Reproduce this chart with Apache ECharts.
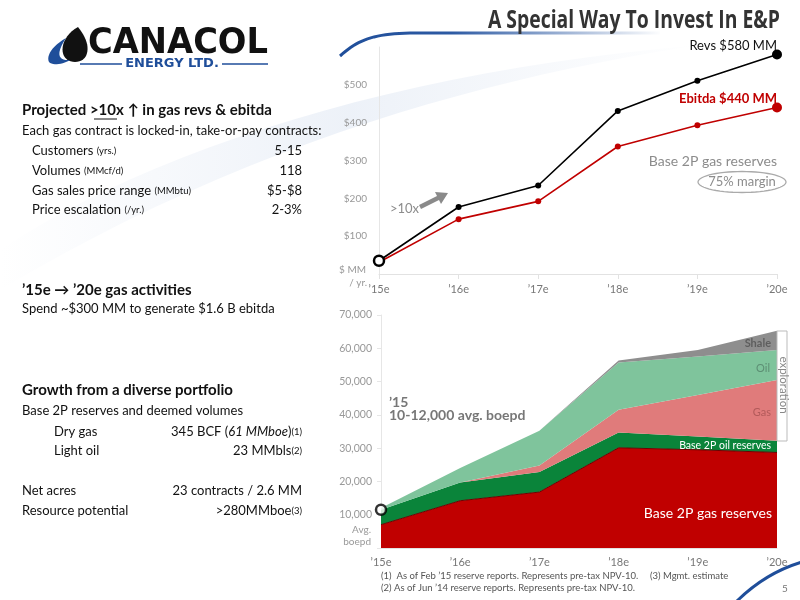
<!DOCTYPE html>
<html>
<head>
<meta charset="utf-8">
<script src="https://cdn.jsdelivr.net/npm/echarts@6/dist/echarts.min.js"></script>
<style>
html,body{margin:0;padding:0;background:#fff;}
#c{width:800px;height:600px;}
</style>
</head>
<body>
<div id="c"></div>
<script>
// ---- data ----
const years = ['\u201915e', '\u201916e', '\u201917e', '\u201918e', '\u201919e', '\u201920e'];
// Top chart: $ MM / yr.
const revenues = [35, 177, 234, 431, 511, 580];
const ebitda = [31, 145, 192, 337, 393, 440];
// Bottom chart: avg. boepd (stacked)
const gasReserves = [7000, 14200, 16800, 30100, 29500, 28700];
const oilReserves = [4500, 5500, 6000, 4600, 4000, 3500];
const gasExploration = [0, 0, 2000, 6800, 12500, 18300];
const oilExploration = [500, 4300, 10400, 14200, 11500, 9000];
const shaleExploration = [0, 0, 0, 600, 2000, 5800];
const current2015 = 11500;

const F = "Lato, 'Open Sans', sans-serif";
const grey = '#8c8c8c';

const measureCtx = document.createElement('canvas').getContext('2d');
function fitScale(text, font, width) {
  measureCtx.font = font;
  return width / measureCtx.measureText(text).width;
}

function txt(x, y, text, opt) {
  opt = opt || {};
  const st = {
    text: text,
    fill: opt.fill || '#111',
    font: opt.font || ('13px ' + F),
    textAlign: opt.align || 'left',
    textVerticalAlign: 'middle'
  };
  if (opt.rich) st.rich = opt.rich;
  return {type: 'text', x: x, y: y, rotation: opt.rotation || 0, scaleX: opt.scaleX || 1, z: 100, style: st};
}
// sample a chain of cubic bezier segments into polygon points (decorative shapes only)
function bez(segs, n) {
  const pts = [];
  segs.forEach(s => {
    for (let k = 0; k <= n; k++) {
      const t = k / n, u = 1 - t;
      pts.push([
        u*u*u*s[0][0] + 3*u*u*t*s[1][0] + 3*u*t*t*s[2][0] + t*t*t*s[3][0],
        u*u*u*s[0][1] + 3*u*u*t*s[1][1] + 3*u*t*t*s[2][1] + t*t*t*s[3][1]
      ]);
    }
  });
  return pts;
}
function ellipsePts(cx, cy, rx, ry) {
  const pts = [];
  for (let k = 0; k < 60; k++) {
    const a = k / 60 * Math.PI * 2;
    pts.push([cx + rx * Math.cos(a), cy + ry * Math.sin(a)]);
  }
  return pts;
}

const rowRich = {
  a: {fontSize: 13, fontFamily: F, color: '#111'},
  s: {fontSize: 9.5, fontFamily: F, color: '#111'},
  i: {fontSize: 13, fontFamily: F, color: '#111', fontStyle: 'italic'}
};

const titleText = 'A Special Way To Invest In E&P';
const titleFont = 'bold 25px "Open Sans", sans-serif';
const logoText = 'CANACOL';
const logoFont = 'bold 36px "DejaVu Sans", sans-serif';

const chart = echarts.init(document.getElementById('c'));
chart.setOption({
  backgroundColor: '#fff',
  animation: false,
  grid: [
    {left: 379, right: 23, top: 47, height: 227},
    {left: 381, right: 23, top: 315, height: 233}
  ],
  xAxis: [
    {
      gridIndex: 0, type: 'category', data: years, boundaryGap: false,
      axisLine: {lineStyle: {color: '#e2e2e2'}},
      axisTick: {show: true, lineStyle: {color: '#e2e2e2'}},
      axisLabel: {color: '#777', fontFamily: F, fontSize: 11, margin: 10}
    },
    {
      gridIndex: 1, type: 'category', data: years, boundaryGap: false,
      axisLine: {lineStyle: {color: '#e2e2e2'}},
      axisTick: {show: false},
      axisLabel: {color: '#777', fontFamily: F, fontSize: 11, margin: 9}
    }
  ],
  yAxis: [
    {
      gridIndex: 0, type: 'value', min: 0, max: 600, interval: 100,
      splitLine: {show: false},
      axisLine: {show: true, lineStyle: {color: '#e6e6e6'}},
      axisTick: {show: false},
      axisLabel: {
        color: '#999', fontFamily: F, fontSize: 10, margin: 12,
        formatter: v => (v > 0 && v <= 500) ? '$' + v : ''
      }
    },
    {
      gridIndex: 1, type: 'value', min: 0, max: 70000, interval: 10000,
      splitLine: {show: false},
      axisLine: {show: true, lineStyle: {color: '#e6e6e6'}},
      axisTick: {show: true, length: 4, lineStyle: {color: '#e6e6e6'}},
      axisLabel: {
        color: '#999', fontFamily: F, fontSize: 10.5, margin: 9,
        formatter: v => v > 0 ? v.toLocaleString('en-US') : ''
      }
    }
  ],
  series: [
    {
      name: 'Revs', type: 'line', xAxisIndex: 0, yAxisIndex: 0,
      data: revenues.map((v, i) => {
        if (i === 0) return {value: v, symbolSize: 10, itemStyle: {color: '#fff', borderColor: '#000', borderWidth: 2.5}};
        if (i === revenues.length - 1) return {value: v, symbolSize: 10, itemStyle: {color: '#000'}};
        return v;
      }),
      symbol: 'circle', symbolSize: 6, z: 5,
      lineStyle: {color: '#000', width: 1.6},
      itemStyle: {color: '#000'}
    },
    {
      name: 'Ebitda', type: 'line', xAxisIndex: 0, yAxisIndex: 0,
      data: ebitda.map((v, i) => {
        if (i === 0) return {value: v, symbolSize: 0};
        if (i === ebitda.length - 1) return {value: v, symbolSize: 10};
        return v;
      }),
      symbol: 'circle', symbolSize: 6, z: 4,
      lineStyle: {color: '#c00000', width: 1.6},
      itemStyle: {color: '#c00000'}
    },
    {
      name: 'Base 2P gas reserves', type: 'line', xAxisIndex: 1, yAxisIndex: 1, stack: 'b',
      data: gasReserves, symbol: 'none',
      lineStyle: {width: 1, color: '#6e0000'}, areaStyle: {color: '#c00000', opacity: 1}
    },
    {
      name: 'Base 2P oil reserves', type: 'line', xAxisIndex: 1, yAxisIndex: 1, stack: 'b',
      data: oilReserves, symbol: 'none',
      lineStyle: {width: 0}, areaStyle: {color: '#0a843a', opacity: 1}
    },
    {
      name: 'Gas', type: 'line', xAxisIndex: 1, yAxisIndex: 1, stack: 'b',
      data: gasExploration, symbol: 'none',
      lineStyle: {width: 0}, areaStyle: {color: '#e07b7b', opacity: 1}
    },
    {
      name: 'Oil', type: 'line', xAxisIndex: 1, yAxisIndex: 1, stack: 'b',
      data: oilExploration, symbol: 'none',
      lineStyle: {width: 0}, areaStyle: {color: '#7fc49c', opacity: 1}
    },
    {
      name: 'Shale', type: 'line', xAxisIndex: 1, yAxisIndex: 1, stack: 'b',
      data: shaleExploration, symbol: 'none',
      lineStyle: {width: 0}, areaStyle: {color: '#8e8e8e', opacity: 1}
    },
    {
      name: '2015', type: 'scatter', xAxisIndex: 1, yAxisIndex: 1,
      data: [[0, current2015]], symbol: 'circle', symbolSize: 10, z: 10,
      itemStyle: {color: '#fff', borderColor: '#000', borderWidth: 2.5}
    }
  ],
  graphic: [
    // faint background swoosh band
    {
      type: 'polygon', z: -10, silent: true,
      shape: {points: bez([[[0, 250], [150, 150], [400, 70], [700, 45]], [[700, 45], [500, 75], [250, 140], [0, 290]]], 24)},
      style: {fill: {type: 'linear', x: 0, y: 0, x2: 1, y2: 0, colorStops: [
        {offset: 0, color: 'rgba(215,225,240,0.0)'}, {offset: 0.5, color: 'rgba(215,225,240,0.45)'}, {offset: 1, color: 'rgba(215,225,240,0.0)'}
      ]}}
    },
    // title swoosh
    {
      type: 'polyline', z: 1,
      shape: {points: bez([[[340, 56], [358, 40], [372, 34], [410, 33]], [[410, 33], [490, 33], [580, 33], [660, 33]]], 20)},
      style: {
        fill: null, lineWidth: 3,
        stroke: {type: 'linear', x: 0, y: 0, x2: 1, y2: 0, colorStops: [
          {offset: 0, color: '#1f4e9a'}, {offset: 0.35, color: '#2d5aa3'}, {offset: 1, color: 'rgba(45,90,163,0)'}
        ]}
      }
    },
    // bottom-right swoosh
    {
      type: 'bezierCurve', z: 1,
      shape: {x1: 736, y1: 602, cpx1: 753, cpy1: 585, cpx2: 775, cpy2: 570, x2: 802, y2: 562},
      style: {fill: null, lineWidth: 3, stroke: '#1f4e9a'}
    },
    // logo
    {
      type: 'polygon', z: 50,
      shape: {points: bez([[[78, 27], [64, 35], [60, 48], [64, 56]], [[64, 56], [68, 64], [82, 64], [86, 56]], [[86, 56], [90, 47], [86, 37], [78, 27]]], 12)},
      style: {fill: '#111'}
    },
    {
      type: 'polygon', z: 51,
      shape: {points: bez([[[66, 38], [52, 46], [46, 56], [49, 62]], [[49, 62], [53, 66], [64, 64], [70, 60]], [[70, 60], [60, 61], [54, 56], [66, 38]]], 12)},
      style: {fill: '#1f4e9a'}
    },
    txt(88, 44, logoText, {font: logoFont, fill: '#111', scaleX: fitScale(logoText, logoFont, 180)}),
    txt(172, 64, 'ENERGY LTD.', {font: 'bold 13px "DejaVu Sans", sans-serif', fill: '#1f4e9a', align: 'center'}),
    {type: 'line', shape: {x1: 80, y1: 64, x2: 122, y2: 64}, style: {stroke: '#1f4e9a', lineWidth: 1.5}},
    {type: 'line', shape: {x1: 222, y1: 64, x2: 268, y2: 64}, style: {stroke: '#1f4e9a', lineWidth: 1.5}},
    // title
    txt(780, 21, titleText, {font: titleFont, fill: '#333', align: 'right', scaleX: fitScale(titleText, titleFont, 292)}),

    // left text block 1
    txt(22, 110, 'Projected >10x \u2191 in gas revs & ebitda', {font: 'bold 15px ' + F, fill: '#111'}),
    {type: 'line', shape: {x1: 94, y1: 119, x2: 117, y2: 119}, style: {stroke: '#111', lineWidth: 1}},
    txt(22, 131, 'Each gas contract is locked-in, take-or-pay contracts:', {font: '13px ' + F}),
    txt(32, 151, '{a|Customers }{s|(yrs.)}', {rich: rowRich}),
    txt(302, 151, '5-15', {align: 'right'}),
    txt(32, 171, '{a|Volumes }{s|(MMcf/d)}', {rich: rowRich}),
    txt(302, 171, '118', {align: 'right'}),
    txt(32, 191, '{a|Gas sales price range }{s|(MMbtu)}', {rich: rowRich}),
    txt(302, 191, '$5-$8', {align: 'right'}),
    txt(32, 210, '{a|Price escalation }{s|(/yr.)}', {rich: rowRich}),
    txt(302, 210, '2-3%', {align: 'right'}),

    // block 2
    txt(22, 290, '\u201915e \u2192 \u201920e gas activities', {font: 'bold 15px ' + F, fill: '#111'}),
    txt(22, 309, 'Spend ~$300 MM to generate $1.6 B ebitda', {font: '13px ' + F}),

    // block 3
    txt(22, 390, 'Growth from a diverse portfolio', {font: 'bold 15px ' + F, fill: '#111'}),
    txt(22, 411, 'Base 2P reserves and deemed volumes', {font: '13px ' + F}),
    txt(54, 432, 'Dry gas', {font: '13px ' + F}),
    txt(302, 432, '{a|345 BCF (}{i|61 MMboe}{a|)}{s|(1)}', {align: 'right', rich: rowRich}),
    txt(54, 451, 'Light oil', {font: '13px ' + F}),
    txt(302, 451, '{a|23 MMbls}{s|(2)}', {align: 'right', rich: rowRich}),
    txt(22, 491, 'Net acres', {font: '13px ' + F}),
    txt(302, 491, '23 contracts / 2.6 MM', {align: 'right'}),
    txt(22, 511, 'Resource potential', {font: '13px ' + F}),
    txt(302, 511, '{a|>280MMboe}{s|(3)}', {align: 'right', rich: rowRich}),

    // top chart annotations
    txt(777, 46, 'Revs $580 MM', {font: '13px ' + F, fill: '#111', align: 'right'}),
    txt(777, 99, 'Ebitda $440 MM', {font: 'bold 13px ' + F, fill: '#c00000', align: 'right'}),
    txt(777, 161, 'Base 2P gas reserves', {font: '14px ' + F, fill: grey, align: 'right'}),
    {type: 'polygon', z: 90, shape: {points: ellipsePts(742, 182, 44, 10.5)}, style: {fill: null, stroke: '#aaa', lineWidth: 1.3}},
    txt(742, 182, '75% margin', {font: '13px ' + F, fill: grey, align: 'center'}),
    txt(390, 209, '>10x', {font: '13px ' + F, fill: grey}),
    {
      type: 'polygon', z: 90,
      shape: {points: [[419, 205], [437, 196], [435, 192], [448, 193], [441, 204], [439, 200], [421, 209]]},
      style: {fill: '#8a8a8a'}
    },
    txt(366, 270, '$ MM', {font: '10px ' + F, fill: '#999', align: 'right'}),
    txt(367, 283, '/ yr.', {font: '10px ' + F, fill: '#999', align: 'right'}),

    // bottom chart annotations
    txt(389, 402, '\u201915', {font: 'bold 14px ' + F, fill: '#777'}),
    txt(389, 415, '10-12,000 avg. boepd', {font: 'bold 14px ' + F, fill: '#777'}),
    txt(772, 513, 'Base 2P gas reserves', {font: '14px ' + F, fill: '#fff', align: 'right'}),
    txt(771, 446, 'Base 2P oil reserves', {font: '10.5px ' + F, fill: '#fff', align: 'right'}),
    txt(771, 343, 'Shale', {font: 'bold 11px ' + F, fill: '#5e5e5e', align: 'right'}),
    txt(770, 368, 'Oil', {font: '11px ' + F, fill: '#5d8f74', align: 'right'}),
    txt(771, 412, 'Gas', {font: '11px ' + F, fill: '#b25a5a', align: 'right'}),
    {type: 'rect', z: 80, shape: {x: 777, y: 331, width: 10, height: 110}, style: {fill: '#fff', stroke: '#bbb', lineWidth: 1}},
    txt(784, 385, 'exploration', {font: '11.5px ' + F, fill: '#888', align: 'center', rotation: -Math.PI / 2}),
    txt(371, 530, 'Avg.', {font: '10px ' + F, fill: '#999', align: 'right'}),
    txt(371, 542, 'boepd', {font: '10px ' + F, fill: '#999', align: 'right'}),

    // footnotes
    txt(381, 576, '(1)  As of Feb \u201915 reserve reports. Represents pre-tax NPV-10.', {font: '9.5px ' + F, fill: '#555'}),
    txt(650, 576, '(3) Mgmt. estimate', {font: '9.5px ' + F, fill: '#555'}),
    txt(381, 588, '(2) As of Jun \u201914 reserve reports. Represents pre-tax NPV-10.', {font: '9.5px ' + F, fill: '#555'}),
    txt(782, 589, '5', {font: '10px ' + F, fill: '#777'})
  ]
});
</script>
</body>
</html>
